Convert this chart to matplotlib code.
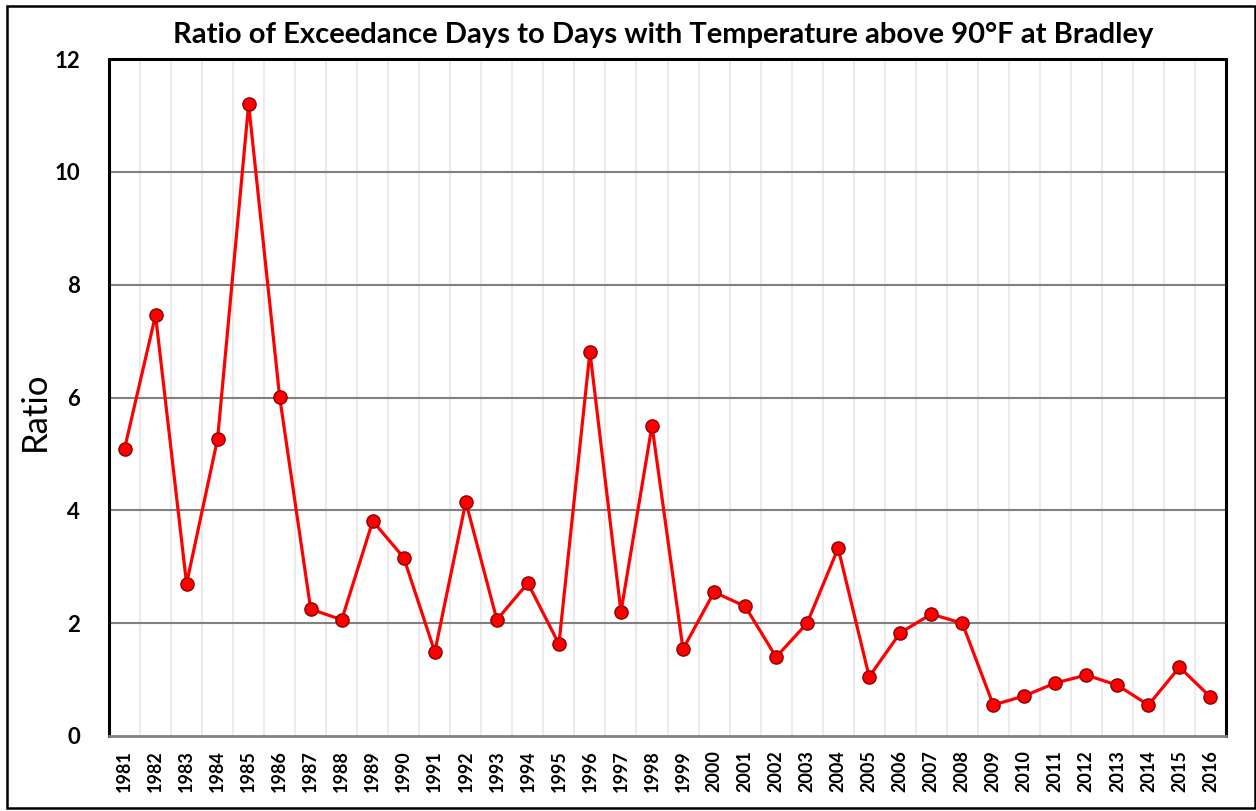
import numpy as np
import matplotlib.pyplot as plt
from matplotlib.patches import Rectangle

plt.rcParams['font.family'] = ['Lato', 'DejaVu Sans']

# Ratio of exceedance days to days above 90F, Bradley
years = [str(y) for y in range(1981, 2017)]
ratio = [5.09, 7.46, 2.70, 5.27, 11.20, 6.01, 2.25, 2.06, 3.81, 3.16,
         1.49, 4.15, 2.06, 2.71, 1.63, 6.81, 2.20, 5.50, 1.54, 2.55,
         2.30, 1.40, 2.00, 3.33, 1.05, 1.83, 2.16, 2.00, 0.55, 0.71,
         0.94, 1.08, 0.90, 0.55, 1.22, 0.69]
y_ticks = [0, 2, 4, 6, 8, 10, 12]

fig = plt.figure(figsize=(12.56, 8.11), dpi=100)
ax = fig.add_axes([109 / 1256, 1 - 736 / 811, (1226 - 109) / 1256, (736 - 59) / 811])

x = np.arange(len(years))
ax.plot(x, ratio, color='#ff0000', lw=2.3, marker='o', markersize=9.5,
        markerfacecolor='#ff0000', markeredgecolor='#8b0000', markeredgewidth=1.0,
        zorder=3)

ax.set_xlim(-0.5, len(years) - 0.5)
ax.set_ylim(0, 12)
ax.set_yticks(y_ticks)
ax.set_yticklabels([str(t) for t in y_ticks], fontsize=16, fontweight='bold')
ax.set_xticks(x)
ax.set_xticklabels(years, rotation=90, fontsize=13, fontweight='bold')
ax.tick_params(length=0, pad=10)
ax.tick_params(axis='y', pad=21)

# category separators and horizontal gridlines
for b in np.arange(0.5, len(years) - 0.5, 1.0):
    ax.axvline(b, color='#ebebeb', lw=1.5, zorder=1)
for t in y_ticks[1:-1]:
    ax.axhline(t, color='#808080', lw=1.5, zorder=1)

for s in ['left', 'top', 'right']:
    ax.spines[s].set_color('black')
    ax.spines[s].set_linewidth(2.2)
ax.spines['bottom'].set_color('#808080')
ax.spines['bottom'].set_linewidth(2)

ax.set_ylabel('Ratio', fontsize=25)
ax.yaxis.set_label_coords(-0.052, 0.48)
fig.text(0.528, 1 - 35 / 811, 'Ratio of Exceedance Days to Days with Temperature above 90°F at Bradley',
         ha='center', va='center', fontsize=21, fontweight='bold')

# outer chart border
fig.patches.append(Rectangle((7 / 1256, 3 / 811), 1 - 8 / 1256, 1 - 9 / 811,
                             transform=fig.transFigure, fill=False,
                             edgecolor='black', lw=1.8))

fig.savefig('out.png', dpi=100)
